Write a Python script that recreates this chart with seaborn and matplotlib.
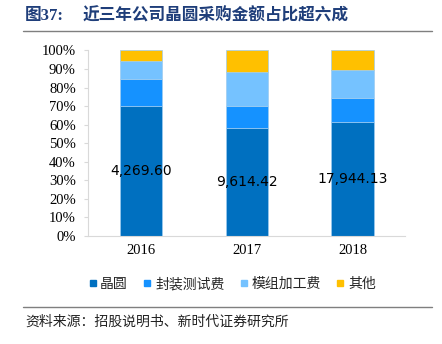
import matplotlib
matplotlib.use("Agg")
import matplotlib.pyplot as plt
from matplotlib.lines import Line2D
import numpy as np
import pandas as pd
import seaborn as sns

# Data: share of each cost item in purchase amount (%), plus wafer spend (万元)
years = ["2016", "2017", "2018"]
series_names = ["晶圆", "封装测试费", "模组加工费", "其他"]
wafer = [69.9, 58.0, 61.2]
packaging = [14.9, 12.2, 13.3]
module = [9.7, 18.4, 15.2]
other = [5.5, 11.4, 10.3]
wafer_amount = [4269.60, 9614.42, 17944.13]

colors = ["#0070C0", "#1592FF", "#75C2FF", "#FFC000"]

sns.set_theme(style="white")
plt.rcParams["font.family"] = ["Noto Sans CJK SC", "DejaVu Sans"]

df = pd.DataFrame({"year": years, "晶圆": wafer, "封装测试费": packaging,
                   "模组加工费": module, "其他": other})

fig = plt.figure(figsize=(4.42, 3.44), dpi=100)
ax = fig.add_axes([0.1998, 0.3148, 0.7173, 0.5384])

bottom = np.zeros(len(years))
for name, col in zip(series_names, colors):
    sns.barplot(data=df, x="year", y=name, ax=ax, color=col, width=0.4,
                bottom=bottom, edgecolor="#9DCBF0", linewidth=0.5,
                saturation=1, errorbar=None)
    bottom = bottom + df[name].to_numpy()

# Wafer amount labels centred in the wafer segment
for i, (h, amt) in enumerate(zip(wafer, wafer_amount)):
    ax.text(i, h / 2, f"{amt:,.2f}", ha="center", va="center",
            fontsize=10, color="black", family="DejaVu Sans")

ax.set_xlim(-0.5, 2.5)
ax.set_ylim(0, 100)
ax.set_yticks(np.arange(0, 101, 10))
ax.set_yticklabels([f"{v}%" for v in range(0, 101, 10)])
ax.set_xlabel("")
ax.set_ylabel("")
for lab in ax.get_xticklabels() + ax.get_yticklabels():
    lab.set_family("Liberation Serif")
    lab.set_fontsize(10.5)
    lab.set_color("black")
ax.tick_params(axis="y", which="both", left=True, length=3, width=0.8,
               color="#D9D9D9", pad=6)
ax.tick_params(axis="x", length=0, pad=6)
for s in ["top", "right"]:
    ax.spines[s].set_visible(False)
for s in ["left", "bottom"]:
    ax.spines[s].set_color("#D9D9D9")
    ax.spines[s].set_linewidth(0.8)

# Legend
handles = [Line2D([0], [0], marker="s", linestyle="none", markersize=4.5,
                  markerfacecolor=c, markeredgecolor=c) for c in colors]
fig.legend(handles, series_names, loc="center", bbox_to_anchor=(0.525, 0.174),
           ncol=4, frameon=False, fontsize=10, handlelength=0.6,
           handletextpad=0.25, columnspacing=1.1, borderpad=0)

# Title and source
fig.text(25 / 442, 1 - 16 / 344, "图37:", fontsize=12, fontweight="bold",
         color="#1F3E7A", va="center", ha="left",
         family=["Liberation Serif", "Noto Sans CJK SC"])
fig.text(83 / 442, 1 - 16 / 344, "近三年公司晶圆采购金额占比超六成", fontsize=12,
         fontweight="bold", color="#1F3E7A", va="center", ha="left")
fig.add_artist(Line2D([23 / 442, 432 / 442], [1 - 31 / 344, 1 - 31 / 344],
                      color="#7F7F7F", linewidth=1))
fig.add_artist(Line2D([23 / 442, 432 / 442], [1 - 307 / 344, 1 - 307 / 344],
                      color="#7F7F7F", linewidth=1))
fig.text(25 / 442, 1 - 322 / 344, "资料来源：招股说明书、新时代证券研究所",
         fontsize=10, color="#222222", va="center", ha="left")

fig.savefig("out.png", dpi=100)
